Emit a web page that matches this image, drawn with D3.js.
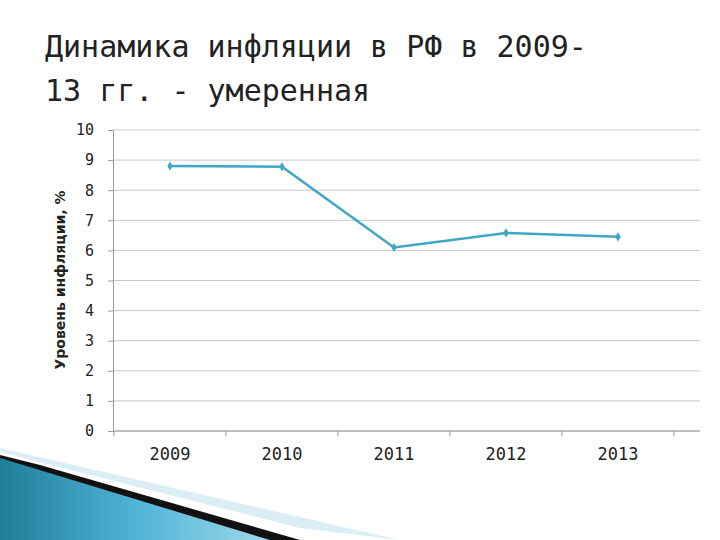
<!DOCTYPE html>
<html><head><meta charset="utf-8">
<script src="https://cdn.jsdelivr.net/npm/d3@7"></script>
<style>body{margin:0;background:#fff}</style></head>
<body><svg id="c" width="720" height="540"></svg>
<script>
const years = ["2009","2010","2011","2012","2013"];
const inflation = [8.8, 8.78, 6.1, 6.58, 6.45];
const yTicks = [0,1,2,3,4,5,6,7,8,9,10];

const svg = d3.select("#c");
const font = "DejaVu Sans Mono";
const defs = svg.append("defs");
const g1 = defs.append("linearGradient").attr("id","gr").attr("x1","0").attr("y1","0").attr("x2","1").attr("y2","0");
g1.append("stop").attr("offset","0").attr("stop-color","#1f7f99");
g1.append("stop").attr("offset","0.5").attr("stop-color","#4fb3d6");
g1.append("stop").attr("offset","1").attr("stop-color","#9fd9ea");
svg.append("polygon").attr("points","0,452 300,528 400,540 0,448").attr("fill","#dbeef5");
svg.append("polygon").attr("points","0,455 40,465 300,540 0,540").attr("fill","#111");
svg.append("polygon").attr("points","0,458 270,540 0,540").attr("fill","url(#gr)");

svg.append("text").attr("x",45).attr("y",57).attr("font-family",font).attr("font-size",30).attr("fill","#222").text("Динамика инфляции в РФ в 2009-");
svg.append("text").attr("x",45).attr("y",101).attr("font-family",font).attr("font-size",30).attr("fill","#222").text("13 гг. - умеренная");

const x = d3.scaleBand().domain(years).range([114,674]);
const y = d3.scaleLinear().domain([0,10]).range([431,130]);

svg.append("g").selectAll("line").data(yTicks).join("line")
  .attr("x1",113).attr("x2",700).attr("y1",d=>y(d)).attr("y2",d=>y(d))
  .attr("stroke","#c8c8c8").attr("stroke-width",1);

const ya = svg.append("g").attr("transform","translate(113,0)").call(d3.axisLeft(y).tickValues(yTicks).tickSize(5).tickPadding(14));
ya.selectAll("text").attr("font-family",font).attr("font-size",15).attr("fill","#222");
ya.selectAll("line,path").attr("stroke","#999");
const xa = svg.append("g").attr("transform","translate(0,431)").call(d3.axisBottom(x).tickSize(0).tickPadding(17));
xa.selectAll("text").attr("font-family",font).attr("font-size",17).attr("fill","#222");
xa.select("path").attr("stroke","none");
xa.append("line").attr("x1",113).attr("x2",700).attr("stroke","#999");
xa.selectAll(".tk").data([0,1,2,3,4,5]).join("line")
  .attr("x1",d=>Math.min(700,114+d*x.bandwidth())).attr("x2",d=>Math.min(700,114+d*x.bandwidth())).attr("y1",0).attr("y2",5).attr("stroke","#999");

svg.append("text").attr("transform","translate(65,280) rotate(-90)").attr("text-anchor","middle")
  .attr("font-family","DejaVu Sans").attr("font-weight","bold").attr("font-size",14).attr("fill","#222").text("Уровень инфляции, %");

const cx = d=>x(d)+x.bandwidth()/2;
svg.append("path").datum(inflation).attr("fill","none").attr("stroke","#3fa7c4").attr("stroke-width",2.5)
  .attr("d", d3.line().x((d,i)=>cx(years[i])).y(d=>y(d)));
svg.selectAll(".m").data(inflation).join("path")
  .attr("transform",(d,i)=>`translate(${cx(years[i])},${y(d)})`)
  .attr("d", d3.symbol(d3.symbolDiamond, 25)).attr("fill","#3fa7c4");
</script></body></html>
